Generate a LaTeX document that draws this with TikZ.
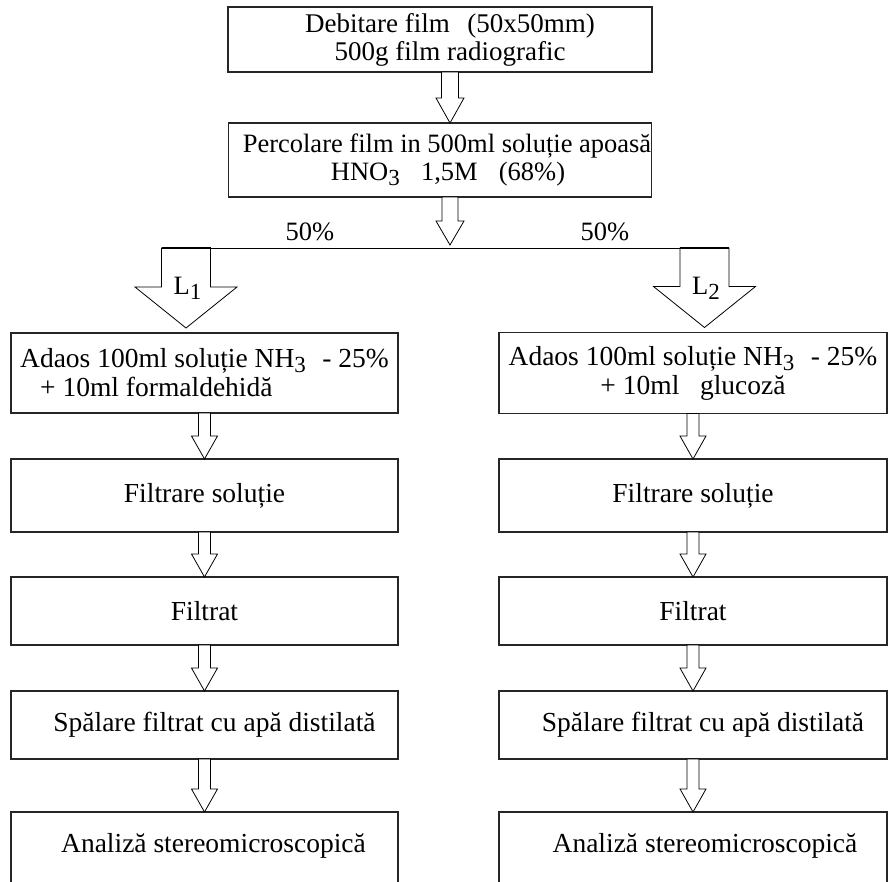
\documentclass[tikz,border=0pt]{standalone}
\usepackage{fontspec}
\setmainfont{Liberation Serif}
\usepackage{tikz}
\usetikzlibrary{arrows}
\usetikzlibrary{calc}

% lowered index digit, as in NH3
\newcommand{\lowr}[1]{\raisebox{-5pt}{\fontsize{23}{23}\selectfont #1}}
% open block arrow: start, tip, shaft half width, head half width, head length
\newcommand{\hollowarrow}[5]{%
  \draw[hollow] let \p1=(#1), \p2=(#2) in
    (\x2-#3,\y1) -- (\x2-#3,\y2+#5) -- (\x2-#4,\y2+#5) -- (\x2,\y2)
    -- (\x2+#4,\y2+#5) -- (\x2+#3,\y2+#5) -- (\x2+#3,\y1) -- cycle;}

\begin{document}
\begin{tikzpicture}[x=1pt, y=1pt, node distance=118pt, thick]
      \tikzstyle{box} = [draw=black!85, line width=1.2pt, inner sep=0pt, outer sep=0pt,
         minimum width=387pt, align=center, font=\fontsize{27.5}{29}\selectfont]
      \tikzstyle{lbl} = [inner sep=0pt, font=\fontsize{26.5}{28}\selectfont]
      \tikzstyle{hollow} = [draw=black, fill=white, line width=0.8pt, line join=miter]
      \useasboundingbox (0,0) rectangle (888,-881);

      %nodes
      \node[box, minimum width=424pt, minimum height=65pt, font=\fontsize{27}{28}\selectfont] (cut) at (440,-39.5)
         {\hspace*{20pt}Debitare film\hspace{0.65em}(50x50mm)\\\hspace*{20pt}500g film radiografic};
      \node[box, minimum width=422pt, minimum height=74pt, font=\fontsize{26.5}{28}\selectfont] (perc) [below of=cut, yshift=-2.5pt]
         {\hspace*{14pt}Percolare film in 500ml soluție apoasă\\\hspace*{16pt}HNO\lowr{3}\hspace{0.8em}1,5M\hspace{0.8em}(68\%)};

      \node[box, minimum height=80pt, align=left] (adaosL) [below of=perc, xshift=-235.5pt, yshift=-95pt]
         {Adaos 100ml soluție NH\lowr{3}\hspace{0.6em}- 25\%\\\hspace*{20pt}+ 10ml formaldehidă};
      \node[box, minimum height=73pt] (filtL) [below of=adaosL, yshift=-4.5pt] {Filtrare soluție};
      \node[box, minimum height=68pt] (filtratL) [below of=filtL, yshift=2.5pt] {Filtrat};
      \node[box, minimum height=68pt] (spalL) [below of=filtratL, yshift=4pt]
         {\hspace*{20pt}Spălare filtrat cu apă distilată};
      \node[box, minimum height=80pt, text height=20pt, text depth=20pt] (anL) [below of=spalL, yshift=-9pt]
         {\hspace*{18pt}Analiză stereomicroscopică};

      \node[box, minimum width=388pt, minimum height=81pt] (adaosR) [node distance=488.5pt, right of=adaosL]
         {Adaos 100ml soluție NH\lowr{3}\hspace{0.6em}- 25\%\\+ 10ml\hspace{0.75em}glucoză};
      \node[box, minimum width=388pt, minimum height=73pt] (filtR) [node distance=488.5pt, right of=filtL] {Filtrare soluție};
      \node[box, minimum width=388pt, minimum height=68pt] (filtratR) [node distance=488.5pt, right of=filtratL] {Filtrat};
      \node[box, minimum width=388pt, minimum height=68pt] (spalR) [node distance=488.5pt, right of=spalL]
         {\hspace*{20pt}Spălare filtrat cu apă distilată};
      \node[box, minimum width=388pt, minimum height=80pt, text height=20pt, text depth=20pt] (anR)
         [node distance=488.5pt, right of=anL] {\hspace*{24pt}Analiză stereomicroscopică};

      %split
      \coordinate (bus) at ($(perc.south)+(10,-51)$);
      \coordinate (busL) at ($(bus)+(-264,0)$);
      \coordinate (busR) at ($(bus)+(254.5,0)$);
      \node[lbl] (pctL) at ($(bus)+(-140,16)$) {50\%};
      \node[lbl] (pctR) at ($(bus)+(155,16)$) {50\%};

      %lines
      \hollowarrow{$(cut.south)+(10,0)$}{$(perc.north)+(10,0)$}{8.5pt}{14pt}{25pt}
      \hollowarrow{$(perc.south)+(10,0)$}{$(bus)+(0,3)$}{8pt}{14pt}{24pt}
      \draw[line width=1pt] ($(busL)+(-24.5,0)$) -- ($(busR)+(24.5,0)$);
      \hollowarrow{busL}{$(busL |- adaosL.north)+(0,5)$}{24.5pt}{51pt}{41pt}
      \hollowarrow{busR}{$(busR |- adaosR.north)+(0,5)$}{24.5pt}{51pt}{41pt}
      \draw[line width=2.2pt] ($(busL)+(-24.5,0)$) -- ($(busL)+(24.5,0)$);
      \draw[line width=2.2pt] ($(busR)+(-24.5,0)$) -- ($(busR)+(24.5,0)$);
      \node[lbl] (lab1) at ($(busL)+(1.5,-40)$) {L\lowr{1}};
      \node[lbl] (lab2) at ($(busR)+(1.5,-40)$) {L\lowr{2}};

      \foreach \a/\b in {adaosL/filtL, filtL/filtratL, filtratL/spalL, spalL/anL,
                         adaosR/filtR, filtR/filtratR, filtratR/spalR, spalR/anR}
         {\hollowarrow{\a.south}{\b.north}{6pt}{13pt}{23pt}}
    \end{tikzpicture}
\end{document}
